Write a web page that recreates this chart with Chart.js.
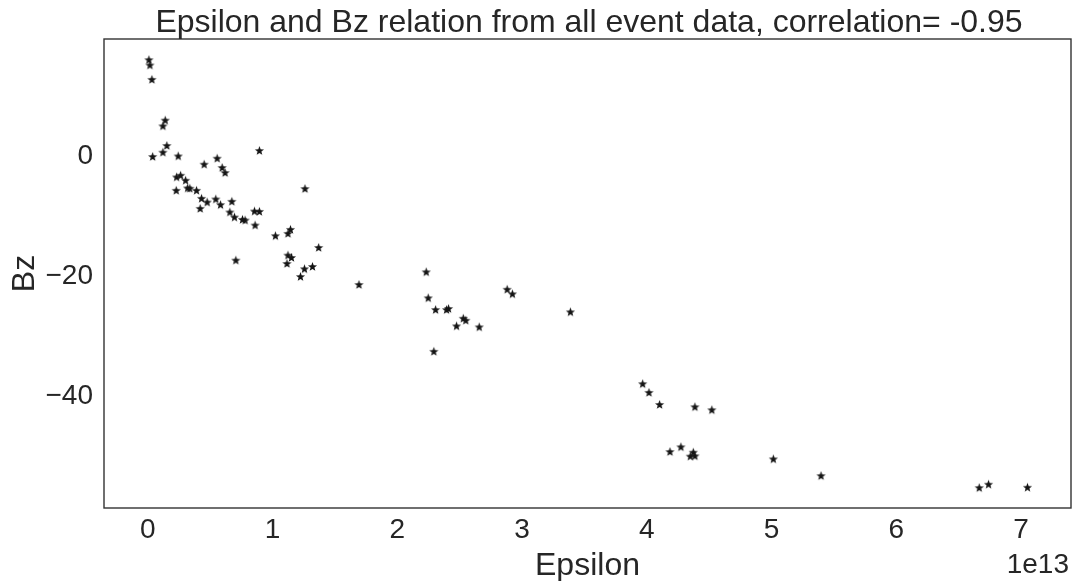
<!DOCTYPE html>
<html>
<head>
<meta charset="utf-8">
<script src="https://cdn.jsdelivr.net/npm/chart.js@4.4.1/dist/chart.umd.min.js"></script>
<style>
  html, body { margin: 0; padding: 0; background: #fff; }
  #wrap { width: 1077px; height: 581px; }
</style>
</head>
<body>
<div id="wrap"><canvas id="scatterChart" width="1077" height="581"></canvas></div>
<script>
// Epsilon in units of 1e13 (offset text shown at axis end)
const epsilon = [
    0.008, 0.016, 0.032, 0.139, 0.12, 0.152, 0.12, 0.038, 0.243, 0.894,
    0.451, 0.555, 0.595, 0.619, 0.23, 0.262, 0.302, 0.318, 0.336, 0.227,
    0.39, 0.43, 0.475, 0.419, 0.544, 0.582, 0.673, 0.657, 0.694, 0.758,
    0.779, 0.854, 0.894, 0.859, 1.022, 1.123, 1.143, 0.705, 1.123, 1.151,
    1.115, 1.259, 1.369, 1.255, 1.319, 1.223, 1.692, 2.231, 2.247, 2.306,
    2.394, 2.41, 2.528, 2.548, 2.474, 2.656, 2.292, 2.88, 2.922, 3.387,
    3.966, 4.017, 4.102, 4.385, 4.521, 4.185, 4.273, 4.372, 4.348, 4.385,
    5.014, 5.396, 6.664, 6.739, 7.051
];
const bz = [
    16.05, 15.17, 12.78, 6.0, 5.05, 1.78, 0.67, -0.05, 0.05, 0.95,
    -1.33, -0.33, -1.88, -2.72, -3.45, -3.17, -4.0, -5.28, -5.33, -5.67,
    -5.67, -7.0, -7.62, -8.67, -7.12, -8.05, -7.5, -9.28, -10.12, -10.5,
    -10.62, -9.12, -9.17, -11.45, -13.22, -12.83, -12.17, -17.28, -16.45, -16.83,
    -17.83, -5.38, -15.17, -18.72, -18.33, -20.0, -21.33, -19.22, -23.55, -25.5,
    -25.5, -25.33, -26.95, -27.28, -28.22, -28.38, -32.45, -22.12, -22.88, -25.88,
    -37.83, -39.28, -41.28, -41.67, -42.17, -49.12, -48.33, -49.22, -49.88, -49.83,
    -50.33, -53.12, -55.12, -54.55, -55.05
];
const xTicks = [0, 1, 2, 3, 4, 5, 6, 7];
const yTicks = [0, -20, -40];

const textColor = '#262626';
const fontFamily = '"Liberation Sans", Arial, Helvetica, sans-serif';

// filled five point star like matplotlib's '*' marker
function makeStar(size, outer, inner, color) {
    const c = document.createElement('canvas');
    c.width = size;
    c.height = size;
    const g = c.getContext('2d');
    g.fillStyle = color;
    g.beginPath();
    for (let i = 0; i < 10; i++) {
        const r = i % 2 === 0 ? outer : inner;
        const a = -Math.PI / 2 + i * Math.PI / 5;
        const px = size / 2 + r * Math.cos(a);
        const py = size / 2 + r * Math.sin(a) + 0.4;
        if (i === 0) g.moveTo(px, py); else g.lineTo(px, py);
    }
    g.closePath();
    g.fill();
    return c;
}

const starImg = makeStar(11, 4.8, 2.0, '#151515');

const points = epsilon.map((e, i) => ({ x: e, y: bz[i] }));

const decorations = {
    id: 'decorations',
    afterDraw(chart) {
        const ctx = chart.ctx;
        const a = chart.chartArea;
        ctx.save();
        ctx.strokeStyle = '#333333';
        ctx.lineWidth = 1.4;
        ctx.strokeRect(a.left, a.top, a.right - a.left, a.bottom - a.top);

        ctx.fillStyle = textColor;
        ctx.textBaseline = 'alphabetic';
        ctx.textAlign = 'center';
        ctx.font = '32px ' + fontFamily;
        ctx.fillText('Epsilon and Bz relation from all event data, correlation= -0.95', 589, 32);
        ctx.fillText('Epsilon', (a.left + a.right) / 2, 575);

        ctx.textAlign = 'right';
        ctx.font = '28px ' + fontFamily;
        ctx.fillText('1e13', a.right - 2, 573);

        ctx.translate(34, (a.top + a.bottom) / 2);
        ctx.rotate(-Math.PI / 2);
        ctx.textAlign = 'center';
        ctx.font = '32px ' + fontFamily;
        ctx.fillText('Bz', 0, 0);
        ctx.restore();
    }
};

new Chart(document.getElementById('scatterChart').getContext('2d'), {
    type: 'scatter',
    data: {
        datasets: [{
            data: points,
            pointStyle: starImg,
            pointRadius: 5,
            pointHoverRadius: 5
        }]
    },
    options: {
        responsive: false,
        animation: false,
        events: [],
        layout: { padding: { top: 39, right: 5, left: 0, bottom: 0 } },
        plugins: {
            legend: { display: false },
            tooltip: { enabled: false },
            title: { display: false }
        },
        scales: {
            x: {
                type: 'linear',
                min: -0.352,
                max: 7.40,
                grid: { display: false, drawTicks: false },
                border: { display: false },
                afterBuildTicks: (scale) => { scale.ticks = xTicks.map(v => ({ value: v })); },
                afterFit: (scale) => { scale.height = 73; },
                ticks: {
                    color: textColor,
                    padding: 5,
                    font: { family: fontFamily, size: 28 },
                    callback: (v) => String(v)
                }
            },
            y: {
                type: 'linear',
                min: -58.5,
                max: 19.5,
                grid: { display: false, drawTicks: false },
                border: { display: false },
                afterBuildTicks: (scale) => { scale.ticks = yTicks.map(v => ({ value: v })); },
                afterFit: (scale) => { scale.width = 104; },
                ticks: {
                    color: textColor,
                    padding: 11,
                    font: { family: fontFamily, size: 28 },
                    callback: (v) => (v < 0 ? '\u2212' + Math.abs(v) : String(v))
                }
            }
        }
    },
    plugins: [decorations]
});
</script>
</body>
</html>
